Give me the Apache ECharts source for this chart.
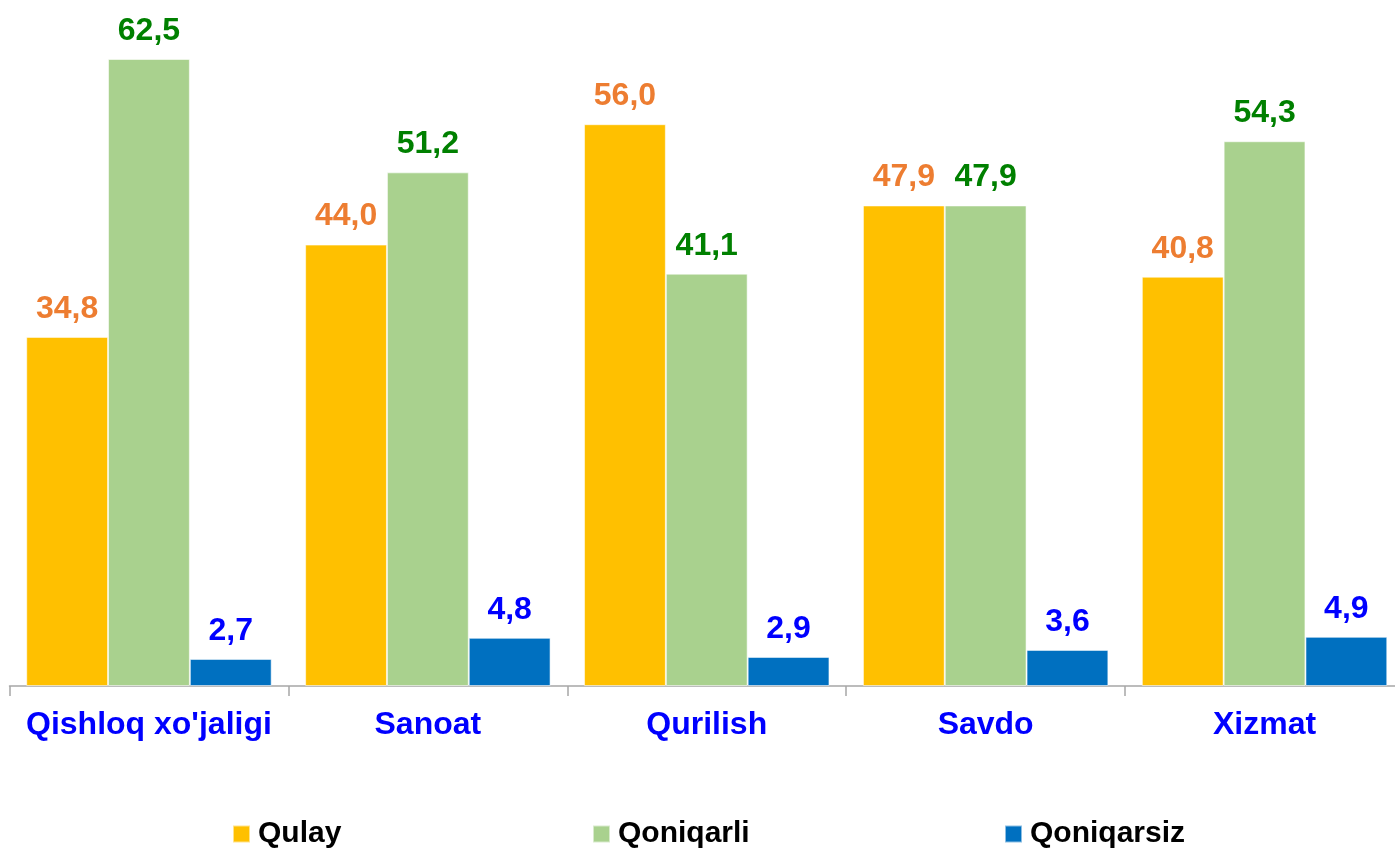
<!DOCTYPE html>
<html>
<head>
<meta charset="utf-8">
<title>Qulay / Qoniqarli / Qoniqarsiz</title>
<script src="https://cdn.jsdelivr.net/npm/echarts@6/dist/echarts.min.js"></script>
<style>
  html, body { margin: 0; padding: 0; background: #fff; overflow: hidden; }
  /* the chart is a few pixels wider than the window so the last category band runs off the right edge */
  #chart { width: 1404px; height: 850px; }
</style>
</head>
<body>
<div id="chart"></div>
<script>
// Sectors and survey shares (%)
const categories = ["Qishloq xo'jaligi", "Sanoat", "Qurilish", "Savdo", "Xizmat"];
const qulay = [34.8, 44.0, 56.0, 47.9, 40.8];
const qoniqarli = [62.5, 51.2, 41.1, 47.9, 54.3];
const qoniqarsiz = [2.7, 4.8, 2.9, 3.6, 4.9];
const seriesNames = ['Qulay', 'Qoniqarli', 'Qoniqarsiz'];

const FONT = '"Liberation Sans", Arial, sans-serif';
const fmt = p => p.value.toFixed(1).replace('.', ',');

function barSeries(name, data, color, labelColor) {
  return {
    name: name,
    type: 'bar',
    data: data,
    barGap: '0%',
    barCategoryGap: '12%',
    itemStyle: { color: color, borderColor: 'rgba(255,255,255,0.55)', borderWidth: 1 },
    label: {
      show: true,
      position: 'top',
      distance: 12,
      formatter: fmt,
      color: labelColor,
      fontFamily: FONT,
      fontWeight: 'bold',
      fontSize: 32
    }
  };
}

function legendAt(name, left) {
  return {
    data: [name],
    left: left,
    top: 814,
    itemWidth: 17,
    itemHeight: 17,
    itemGap: 0,
    icon: 'rect',
    textStyle: { fontFamily: FONT, fontWeight: 'bold', fontSize: 30, color: '#000', padding: [0, 0, 0, 3] }
  };
}

const chart = echarts.init(document.getElementById('chart'), null, { renderer: 'canvas' });
chart.setOption({
  animation: false,
  backgroundColor: '#fff',
  grid: { left: 9.5, right: 0, top: 59, bottom: 164, containLabel: false },
  legend: [
    legendAt(seriesNames[0], 227),
    legendAt(seriesNames[1], 587),
    legendAt(seriesNames[2], 999)
  ],
  xAxis: {
    type: 'category',
    data: categories,
    axisLine: { lineStyle: { color: '#a6a6a6', width: 1.5 } },
    axisTick: { show: true, length: 10, lineStyle: { color: '#a6a6a6', width: 1.5 } },
    axisLabel: {
      margin: 23,
      color: '#0000ff',
      fontFamily: FONT,
      fontWeight: 'bold',
      fontSize: 32,
      interval: 0
    }
  },
  yAxis: {
    type: 'value',
    min: 0,
    max: v => v.max,
    show: false,
    splitLine: { show: false }
  },
  series: [
    barSeries(seriesNames[0], qulay, '#ffc000', '#ed7d31'),
    barSeries(seriesNames[1], qoniqarli, '#a9d18e', '#008000'),
    barSeries(seriesNames[2], qoniqarsiz, '#0070c0', '#0000ff')
  ]
});
</script>
</body>
</html>
